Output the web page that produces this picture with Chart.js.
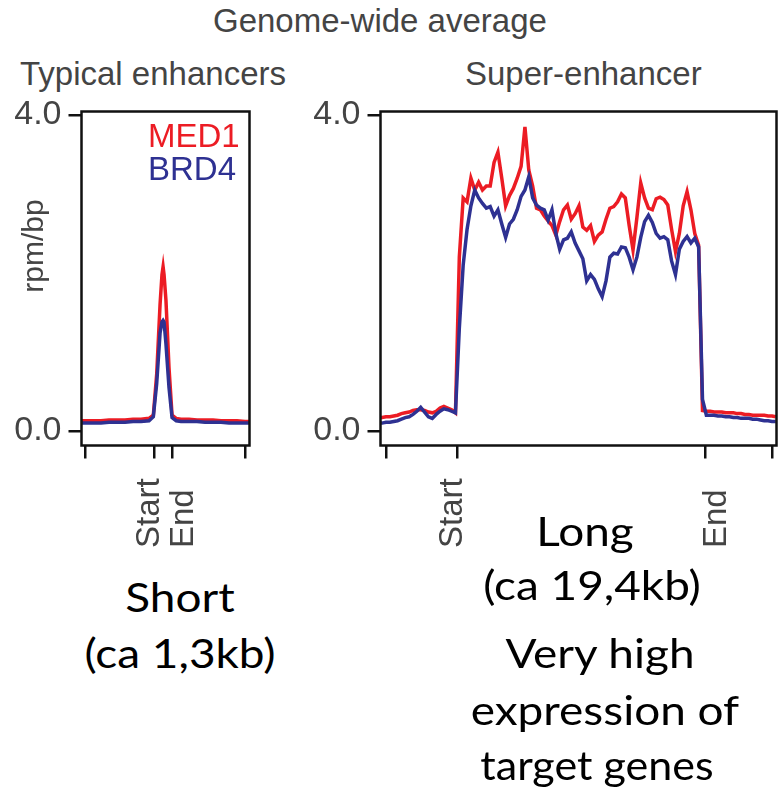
<!DOCTYPE html>
<html>
<head>
<meta charset="utf-8">
<script src="https://cdn.jsdelivr.net/npm/chart.js@4.4.1/dist/chart.umd.min.js"></script>
<style>
  body { margin: 0; background: #fff; }
  #wrap { position: relative; width: 778px; height: 800px; overflow: hidden; }
  canvas { position: absolute; }
  .lbl { position: absolute; font-family: "Liberation Sans", Arial, sans-serif; font-size: 33px; line-height: 1; color: #444; white-space: nowrap; }
  .big { position: absolute; width: 400px; font-family: Lato, sans-serif; font-size: 41px; line-height: 1; color: #000; white-space: nowrap; text-align: center; transform: scaleX(1.12); }
</style>
</head>
<body>
<div id="wrap">
  <canvas id="typical" width="262" height="470" style="left:0;top:95px"></canvas>
  <canvas id="superEnh" width="488" height="470" style="left:290px;top:95px"></canvas>

  <div class="lbl" style="left:213px;top:4px">Genome-wide average</div>
  <div class="lbl" style="left:20px;top:57px">Typical enhancers</div>
  <div class="lbl" style="left:465px;top:57px">Super-enhancer</div>
  <div class="lbl" style="left:148px;top:119px;color:#ec1c24">MED1</div>
  <div class="lbl" style="left:148px;top:152px;color:#2e3192">BRD4</div>
  <div class="lbl" style="left:-27px;top:228px;width:120px;line-height:36px;font-size:30px;text-align:center;transform:rotate(-90deg)">rpm/bp</div>

  <div class="big" style="left:-20px;top:576px">Short</div>
  <div class="big" style="left:-20px;top:632px">(ca 1,3kb)</div>
  <div class="big" style="left:385px;top:510px">Long</div>
  <div class="big" style="left:392px;top:564px">(ca 19,4kb)</div>
  <div class="big" style="left:400px;top:632px">Very high</div>
  <div class="big" style="left:405px;top:689px">expression of</div>
  <div class="big" style="left:397px;top:744px;transform:scaleX(1.05)">target genes</div>
</div>
<script>
// Typical enhancers (position in % of window, rpm/bp)
const typicalPos = [-2, 0, 5, 10, 15, 20, 25, 30, 35, 40, 42.7, 44.8, 46.9, 48.1, 48.8, 49.4, 50.6, 52.5, 54.4, 57, 60, 65, 70, 75, 80, 85, 90, 95, 100, 103];
const typicalMED1 = [0.13, 0.13, 0.13, 0.13, 0.14, 0.14, 0.14, 0.15, 0.15, 0.16, 0.2, 0.72, 1.6, 1.98, 2.08, 1.98, 1.65, 0.8, 0.2, 0.16, 0.15, 0.15, 0.14, 0.14, 0.14, 0.13, 0.13, 0.13, 0.12, 0.12];
const typicalBRD4 = [0.10, 0.10, 0.10, 0.10, 0.11, 0.11, 0.11, 0.12, 0.12, 0.13, 0.18, 0.6, 1.24, 1.38, 1.40, 1.38, 1.1, 0.55, 0.17, 0.13, 0.12, 0.12, 0.12, 0.11, 0.11, 0.11, 0.10, 0.10, 0.10, 0.10];
const typicalTicks = [0, 43.1, 54.4, 100];
const typicalTickLabels = ['', 'Start', 'End', ''];

// Super-enhancer
const superPos = [-2, -1, 0, 1, 2, 3, 4, 5, 6, 7, 8, 9, 10, 11, 12, 13, 14, 15, 16, 17, 18, 19, 20,
  21, 22, 23, 24, 25, 26, 27, 28, 29, 30, 31, 32, 33, 34, 35, 36, 37, 38, 39, 40,
  41, 42, 43, 44, 45, 46, 47, 48, 49, 50, 51, 52, 53, 54, 55, 56, 57, 58, 59, 60,
  61, 62, 63, 64, 65, 66, 67, 68, 69, 70, 71, 72, 73, 74, 75, 76, 77, 78, 79, 80,
  81, 82, 83, 84, 85, 86, 87, 88, 89, 90, 91, 92, 93, 94, 95, 96, 97, 98, 99, 100, 101];
const superMED1 = [0.17, 0.17, 0.18, 0.18, 0.19, 0.20, 0.22, 0.23, 0.24, 0.26, 0.27, 0.27, 0.26, 0.24, 0.23, 0.25, 0.29, 0.31, 0.29, 0.27, 0.23, 2.2, 2.95,
  2.9, 3.2, 3.05, 3.15, 3.05, 3.1, 3.1, 3.4, 3.53, 3.2, 2.85, 2.98, 3.07, 3.2, 3.35, 3.85, 3.3, 3.1, 2.82, 2.8,
  2.72, 2.66, 2.6, 2.48, 2.65, 2.8, 2.86, 2.68, 2.75, 2.85, 2.58, 2.54, 2.6, 2.4, 2.48, 2.52, 2.68, 2.82, 2.84, 2.9,
  3.0, 2.95, 2.6, 2.29, 2.7, 3.14, 2.95, 2.82, 2.8, 2.94, 2.96, 2.93, 2.86, 2.55, 2.27, 2.5, 2.85, 3.03, 2.8, 2.5,
  2.35, 0.26, 0.25, 0.25, 0.24, 0.24, 0.24, 0.23, 0.23, 0.23, 0.22, 0.22, 0.21, 0.21, 0.2, 0.2, 0.2, 0.2, 0.19, 0.19, 0.18];
const superBRD4 = [0.10, 0.10, 0.11, 0.11, 0.12, 0.13, 0.15, 0.17, 0.18, 0.21, 0.25, 0.30, 0.24, 0.18, 0.16, 0.21, 0.25, 0.28, 0.27, 0.25, 0.23, 1.3, 2.1,
  2.55, 2.85, 3.05, 2.95, 2.88, 2.82, 2.84, 2.72, 2.8, 2.62, 2.45, 2.62, 2.68, 2.8, 2.97, 3.05, 3.22, 2.95, 2.86, 2.82,
  2.8, 2.67, 2.8, 2.5, 2.3, 2.42, 2.44, 2.52, 2.38, 2.28, 2.18, 1.9, 1.98, 1.92, 1.8, 1.70, 1.9, 2.2, 2.25, 2.24,
  2.33, 2.32, 2.2, 2.04, 2.2, 2.45, 2.65, 2.73, 2.64, 2.5, 2.44, 2.46, 2.42, 2.15, 1.98, 2.3, 2.4, 2.46, 2.38, 2.44,
  2.33, 0.4, 0.2, 0.2, 0.2, 0.19, 0.19, 0.18, 0.18, 0.17, 0.17, 0.16, 0.16, 0.16, 0.15, 0.15, 0.14, 0.13, 0.13, 0.12, 0.12];
const superTicks = [0, 18.4, 82.6, 100];
const superTickLabels = ['', 'Start', 'End', ''];

const yTicks = [0, 4];

const RED = '#ec1c24';
const BLUE = '#2e3192';
const FONT = '"Liberation Sans", Arial, sans-serif';

// box around the plot area
const frame = {
  id: 'frame',
  afterDatasetsDraw(chart) {
    const { ctx, chartArea: a } = chart;
    ctx.save();
    ctx.strokeStyle = '#111';
    ctx.lineWidth = 2.5;
    ctx.strokeRect(a.left, a.top, a.right - a.left, a.bottom - a.top);
    ctx.restore();
  }
};

// rotated Start / End labels, bottom aligned
const edgeLabels = {
  id: 'edgeLabels',
  afterDraw(chart, args, opts) {
    const ctx = chart.ctx;
    const xs = chart.scales.x;
    ctx.save();
    ctx.font = '33px ' + FONT;
    ctx.fillStyle = '#444';
    ctx.textAlign = 'left';
    ctx.textBaseline = 'alphabetic';
    opts.values.forEach((v, i) => {
      const t = opts.labels[i];
      if (!t) return;
      ctx.save();
      ctx.translate(xs.getPixelForValue(v) + opts.shift[i], opts.bottom);
      ctx.rotate(-Math.PI / 2);
      ctx.fillText(t, 0, 0);
      ctx.restore();
    });
    ctx.restore();
  }
};

function makeChart(id, pos, med1, brd4, xMin, xMax, xTicks, xLabels, yWidth, padRight) {
  const ticksGrid = { drawOnChartArea: false, tickLength: 13, color: '#111', lineWidth: 2.5 };
  return new Chart(document.getElementById(id), {
    type: 'line',
    data: {
      datasets: [
        { label: 'MED1', data: pos.map((x, i) => ({ x: x, y: med1[i] })), borderColor: RED, borderWidth: 3.5, order: 2 },
        { label: 'BRD4', data: pos.map((x, i) => ({ x: x, y: brd4[i] })), borderColor: BLUE, borderWidth: 3.5, order: 1 }
      ]
    },
    options: {
      responsive: false,
      animation: false,
      devicePixelRatio: 1,
      elements: { point: { radius: 0 }, line: { tension: 0 } },
      layout: { padding: { top: 16.5, right: padRight, left: 0, bottom: 0 } },
      plugins: {
        legend: { display: false },
        tooltip: { enabled: false },
        edgeLabels: { values: xTicks, labels: xLabels, shift: [0, 5, 21, 0], bottom: 453 }
      },
      scales: {
        x: {
          type: 'linear',
          min: xMin,
          max: xMax,
          afterBuildTicks: s => { s.ticks = xTicks.map(v => ({ value: v })); },
          afterFit: s => { s.height = 119.5; },
          ticks: { display: false },
          grid: ticksGrid,
          border: { display: false }
        },
        y: {
          min: -0.1835,
          max: 4.044,
          afterBuildTicks: s => { s.ticks = yTicks.map(v => ({ value: v })); },
          afterFit: s => { s.width = yWidth; },
          ticks: {
            padding: 7,
            color: '#444',
            font: { family: FONT, size: 34, lineHeight: 0.4 },
            callback: v => v.toFixed(1)
          },
          grid: ticksGrid,
          border: { display: false }
        }
      }
    },
    plugins: [frame, edgeLabels]
  });
}

makeChart('typical', typicalPos, typicalMED1, typicalBRD4, -2.19, 102.8, typicalTicks, typicalTickLabels, 81.5, 12.5);
makeChart('superEnh', superPos, superMED1, superBRD4, -1.42, 101.17, superTicks, superTickLabels, 90.5, 1.5);
</script>
</body>
</html>
